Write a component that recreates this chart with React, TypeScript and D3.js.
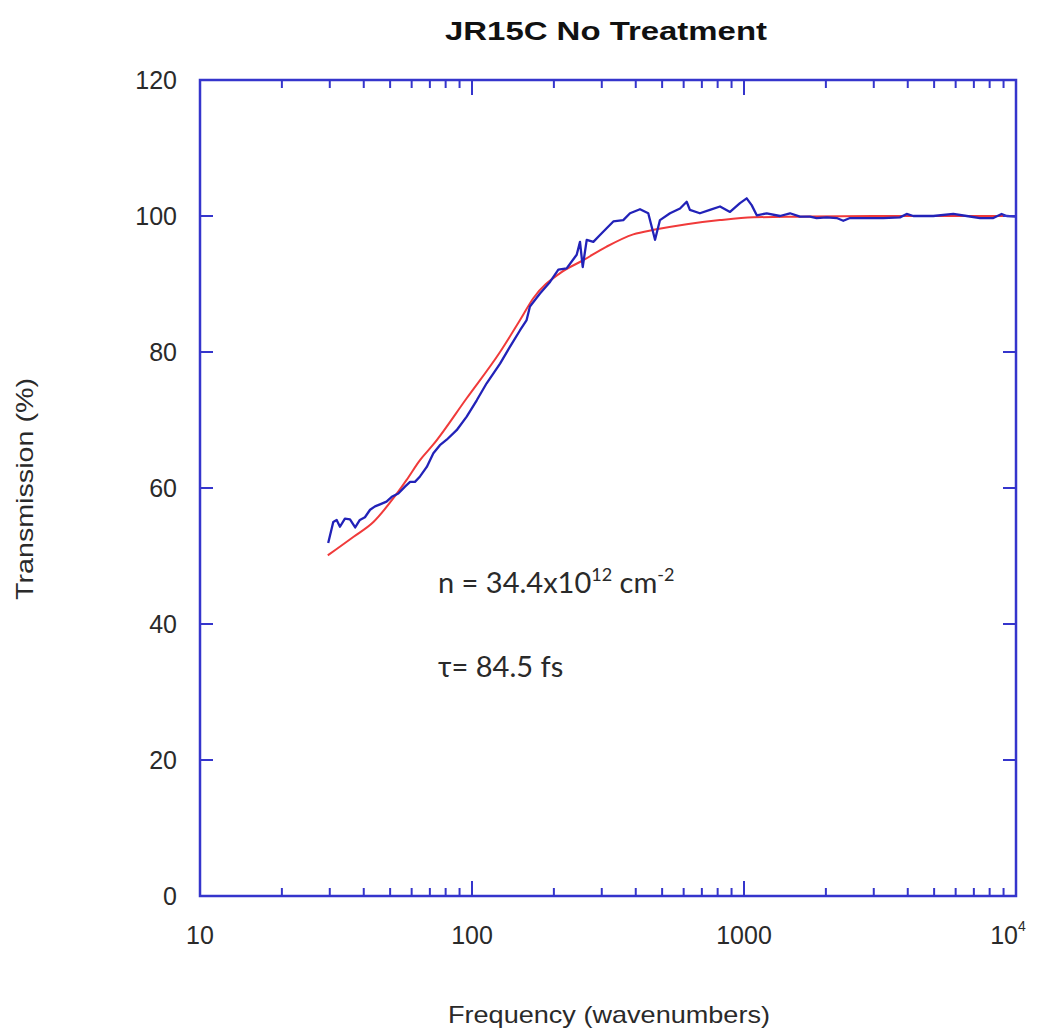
import React from 'react';
import * as d3 from 'd3';

// measured data (frequency in wavenumbers, transmission in %)
const measuredFreq = [29.6, 30.9, 31.8, 32.7, 34.1, 35.6, 37.2, 38.7, 40.4, 42.2, 44.0, 45.9, 48.5, 50.7, 53.6, 56.7, 59.2, 61.7, 64.4, 68.2, 72.1, 76.2, 80.7, 87.8, 95.6, 104.1, 113.2, 126.8, 138, 150.2, 158.8, 163.3, 177.8, 193.6, 207.7, 222.8, 242.6, 249.5, 255.3, 264.1, 279.3, 295.5, 312.6, 330.8, 359.9, 381, 414.6, 444.6, 470.9, 491, 534.6, 581.9, 615.6, 632.5, 688.3, 749.4, 816.3, 888.4, 966.6, 1023, 1067, 1114, 1212, 1356, 1476, 1607, 1748, 1849, 2014, 2192, 2318, 2453, 2825, 3252, 3746, 3963, 4193, 4965, 5880, 6587, 7372, 8253, 8851, 9243, 10000];
const measuredT = [51.9, 55.0, 55.3, 54.3, 55.5, 55.4, 54.2, 55.3, 55.7, 56.8, 57.3, 57.6, 58.0, 58.7, 59.2, 60.2, 60.9, 60.9, 61.7, 63.1, 65.1, 66.3, 67.1, 68.5, 70.5, 72.9, 75.4, 78.3, 80.8, 83.2, 84.7, 86.7, 88.6, 90.3, 92.1, 92.3, 94.3, 96.2, 92.5, 96.5, 96.2, 97.2, 98.2, 99.2, 99.4, 100.4, 101.0, 100.4, 96.5, 99.4, 100.4, 101.1, 102.1, 100.9, 100.4, 100.9, 101.4, 100.6, 101.9, 102.6, 101.6, 100.1, 100.4, 100.0, 100.4, 99.9, 99.9, 99.7, 99.8, 99.7, 99.3, 99.7, 99.7, 99.7, 99.8, 100.3, 100.0, 100.0, 100.3, 100.0, 99.7, 99.7, 100.3, 100.0, 99.9];

// fitted curve
const fitFreq = [29.5, 36.6, 43.4, 51.4, 57.5, 64.4, 72.1, 95.6, 126.8, 150.2, 168, 210.8, 256.6, 312.6, 391.6, 470.9, 615.6, 816, 1081, 1600, 3000, 10000];
const fitT = [50.1, 52.8, 55.0, 58.5, 61.2, 64.1, 66.4, 73.2, 80.0, 84.7, 87.9, 91.6, 93.5, 95.5, 97.3, 98.0, 98.8, 99.4, 99.8, 99.9, 100, 100];

const yTicks = [0, 20, 40, 60, 80, 100, 120];
const xMajor = [10, 100, 1000, 10000];

const W = 1040;
const H = 1036;
const left = 200, right = 1016, top = 80, bottom = 896;

const frameColor = '#3535cc';
const textColor = '#2a2a2a';

export default function App() {
  const x = d3.scaleLog().domain([10, 10000]).range([left, right]);
  const y = d3.scaleLinear().domain([0, 120]).range([bottom, top]);

  const minor: number[] = [];
  for (let p = 10; p < 10000; p *= 10) {
    for (let k = 2; k <= 9; k++) minor.push(p * k);
  }

  const measured = measuredFreq.map((f, i) => [f, measuredT[i]] as [number, number]);
  const fit = fitFreq.map((f, i) => [f, fitT[i]] as [number, number]);

  const line = d3.line<[number, number]>().x(d => x(d[0])).y(d => y(d[1]));
  const smooth = d3.line<[number, number]>().x(d => x(d[0])).y(d => y(d[1])).curve(d3.curveMonotoneX);

  const font = 'Liberation Sans, Arial, sans-serif';
  const annFont = "Lato, 'Open Sans', sans-serif";

  return (
    <svg width={W} height={H} style={{ position: 'absolute', left: 0, top: 0, background: '#fff' }}>
      {/* title */}
      <text x={606} y={40} textAnchor="middle" fontFamily={font} fontWeight="bold" fontSize={25}
        fill="#111" textLength={322} lengthAdjust="spacingAndGlyphs">JR15C No Treatment</text>

      {/* curves */}
      <path d={smooth(fit) || ''} fill="none" stroke="#f03a3a" strokeWidth={2} />
      <path d={line(measured) || ''} fill="none" stroke="#2222b8" strokeWidth={2.3} strokeLinejoin="round" />

      {/* frame */}
      <rect x={left} y={top} width={right - left} height={bottom - top} fill="none" stroke={frameColor} strokeWidth={2.5} />

      {/* x ticks, bottom and top, inward */}
      {minor.map(v => (
        <g key={'m' + v}>
          <line x1={x(v)} x2={x(v)} y1={bottom} y2={bottom - 8} stroke={frameColor} strokeWidth={2} />
          <line x1={x(v)} x2={x(v)} y1={top} y2={top + 8} stroke={frameColor} strokeWidth={2} />
        </g>
      ))}
      {xMajor.map(v => (
        <g key={'M' + v}>
          <line x1={x(v)} x2={x(v)} y1={bottom} y2={bottom - 15} stroke={frameColor} strokeWidth={2} />
          <line x1={x(v)} x2={x(v)} y1={top} y2={top + 15} stroke={frameColor} strokeWidth={2} />
        </g>
      ))}

      {/* y ticks, left and right, inward */}
      {yTicks.map(v => (
        <g key={'y' + v}>
          <line x1={left} x2={left + 13} y1={y(v)} y2={y(v)} stroke={frameColor} strokeWidth={2} />
          <line x1={right} x2={right - 13} y1={y(v)} y2={y(v)} stroke={frameColor} strokeWidth={2} />
          <text x={177} y={y(v)} dy="0.36em" textAnchor="end" fontFamily={font} fontSize={25} fill={textColor}>{v}</text>
        </g>
      ))}

      {/* x tick labels */}
      {xMajor.slice(0, 3).map(v => (
        <text key={'xl' + v} x={x(v)} y={944} textAnchor="middle" fontFamily={font} fontSize={25} fill={textColor}>{v}</text>
      ))}
      <text x={x(10000) - 8} y={944} textAnchor="middle" fontFamily={font} fontSize={25} fill={textColor}>
        10<tspan fontSize={14} dy={-13}>4</tspan>
      </text>

      {/* axis titles */}
      <text x={609} y={1023} textAnchor="middle" fontFamily={font} fontSize={24} fill={textColor}
        textLength={322} lengthAdjust="spacingAndGlyphs">Frequency (wavenumbers)</text>
      <text transform="translate(33,489) rotate(-90)" textAnchor="middle" fontFamily={font} fontSize={24} fill={textColor}
        textLength={222} lengthAdjust="spacingAndGlyphs">Transmission (%)</text>

      {/* annotation */}
      <text x={438} y={593} fontFamily={annFont} fontSize={29} fill={textColor}>
        n = 34.4x10<tspan fontSize={18} dy={-12}>12</tspan><tspan dy={12}> cm</tspan><tspan fontSize={18} dy={-12}>-2</tspan>
      </text>
      <text x={438} y={677} fontFamily={annFont} fontSize={29} fill={textColor}>τ= 84.5 fs</text>
    </svg>
  );
}
